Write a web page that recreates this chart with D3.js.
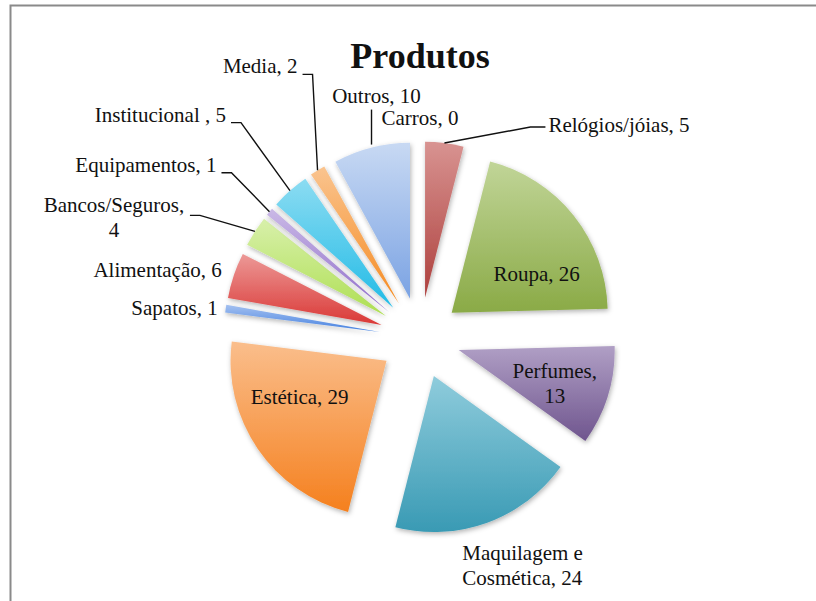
<!DOCTYPE html>
<html>
<head>
<meta charset="utf-8">
<script src="https://cdn.jsdelivr.net/npm/d3@7"></script>
<style>
  body { margin: 0; background: #fff; }
  svg { display: block; }
  text { font-family: "Liberation Serif", "Times New Roman", serif; fill: #111; }
</style>
</head>
<body>
<div id="chart"></div>
<script>
// chart data
var categories = ["Carros", "Relógios/jóias", "Roupa", "Perfumes", "Maquilagem e Cosmética", "Estética",
    "Sapatos", "Alimentação", "Bancos/Seguros", "Equipamentos", "Institucional ", "Media", "Outros"];
var values = [0, 5, 26, 13, 24, 29, 1, 6, 4, 1, 5, 2, 10];
var baseColors = ["#4F81BD", "#C0504D", "#9BBB59", "#8064A2", "#4BACC6", "#F79646",
    "#6A9AE6", "#E05A58", "#C0E678", "#A98ED6", "#45C6EA", "#F7A04A", "#A6C1EC"];
var title = "Produtos";

var w = 816, h = 601;
var cx = 420, cy = 338;
var radius = 156;
var explode = 40.5;

// label placement: offset from the slice's outer point, text lines, anchor, leader
var labelLayout = [
    { dx: 0, dy: -17, anchor: "middle", lines: ["Carros, 0"], leader: null },
    { dx: 104, dy: -11, anchor: "start", lines: ["Relógios/jóias, 5"], leader: "left" },
    { dx: -37, dy: 66, anchor: "middle", lines: ["Roupa, 26"], leader: null },
    { dx: -53, dy: -18, anchor: "middle", lines: ["Perfumes,", "13"], leader: null },
    { dx: -25, dy: 37, anchor: "start", lines: ["Maquilagem e", "Cosmética, 24"], leader: null },
    { dx: 42, dy: -45, anchor: "middle", lines: ["Estética, 29"], leader: null },
    { dx: -8, dy: 6, anchor: "end", lines: ["Sapatos, 1"], leader: null },
    { dx: -12, dy: 2, anchor: "end", lines: ["Alimentação, 6"], leader: null },
    { dx: -141, dy: -19, anchor: "middle", lines: ["Bancos/Seguros,", "4"], leader: "right", leaderX: -70 },
    { dx: -53, dy: -40, anchor: "end", lines: ["Equipamentos, 1"], leader: "right" },
    { dx: -64, dy: -69, anchor: "end", lines: ["Institucional , 5"], leader: "right" },
    { dx: -20, dy: -97, anchor: "end", lines: ["Media, 2"], leader: "right" },
    { dx: 5, dy: -45, anchor: "middle", lines: ["Outros, 10"], leader: "down" }
];

var svg = d3.select("#chart")
    .append("svg")
    .attr("width", w)
    .attr("height", h);

var defs = svg.append("defs");

var shadow = defs.append("filter")
    .attr("id", "shadow")
    .attr("x", "-20%").attr("y", "-20%")
    .attr("width", "140%").attr("height", "140%");
shadow.append("feDropShadow")
    .attr("dx", 1).attr("dy", 2)
    .attr("stdDeviation", 2.5)
    .attr("flood-color", "#000")
    .attr("flood-opacity", 0.3);

// outer frame
svg.append("rect")
    .attr("x", 10.5).attr("y", 5.5)
    .attr("width", w + 20).attr("height", h + 20)
    .attr("fill", "none")
    .attr("stroke", "#8a8a8a")
    .attr("stroke-width", 2);

// one vertical gradient per slice: light top, deeper bottom
baseColors.forEach(function (c, i) {
    var g = defs.append("linearGradient")
        .attr("id", "grad" + i)
        .attr("x1", 0).attr("y1", 0)
        .attr("x2", 0).attr("y2", 1);
    var bottom = d3.hsl(c);
    bottom.l = bottom.l * 0.87;
    g.append("stop").attr("offset", "0%")
        .attr("stop-color", d3.interpolateRgb(c, "#fff")(0.38));
    g.append("stop").attr("offset", "100%")
        .attr("stop-color", bottom.formatHex());
});

var pie = d3.pie().sort(null).value((d) => d);
var arcs = pie(values);

var arc = d3.arc().innerRadius(0).outerRadius(radius);

function midAngle(d) {
    return (d.startAngle + d.endAngle) / 2;
}
function apex(d) {
    var a = midAngle(d);
    return [cx + explode * Math.sin(a), cy - explode * Math.cos(a)];
}
function outerPoint(d) {
    var a = midAngle(d), p = apex(d);
    return [p[0] + radius * Math.sin(a), p[1] - radius * Math.cos(a)];
}

svg.append("g")
    .selectAll("path")
    .data(arcs.filter((d) => d.value > 0))
    .enter()
    .append("path")
    .attr("transform", (d) => `translate(${apex(d)[0]}, ${apex(d)[1]})`)
    .attr("d", arc)
    .attr("fill", (d) => `url(#grad${d.index})`)
    .attr("filter", "url(#shadow)");

// leader lines
var leaders = svg.append("g")
    .attr("fill", "none")
    .attr("stroke", "#111")
    .attr("stroke-width", 1.4);

var pts = (arr) => arr.map((p) => p.join(",")).join(" ");

arcs.forEach(function (d, i) {
    var lay = labelLayout[i];
    var o = outerPoint(d);
    var lx = o[0] + lay.dx, ly = o[1] + lay.dy;
    if (lay.leader == "right") {
        var sx = (lay.leaderX != null ? o[0] + lay.leaderX : lx) + 5;
        var yy = ly + (lay.leaderX != null ? 3 : 1);
        leaders.append("polyline")
            .attr("points", pts([[sx, yy], [sx + 10, yy], o]));
    } else if (lay.leader == "left") {
        var yl = ly - 5;
        leaders.append("polyline")
            .attr("points", pts([[lx - 3, yl], [lx - 18, yl], o]));
    } else if (lay.leader == "down") {
        leaders.append("line")
            .attr("x1", o[0]).attr("y1", ly + 7)
            .attr("x2", o[0]).attr("y2", o[1] - 3);
    }
});

// labels
var labels = svg.append("g").attr("font-size", "21px");
arcs.forEach(function (d, i) {
    var lay = labelLayout[i];
    var o = outerPoint(d);
    var t = labels.append("text")
        .attr("x", o[0] + lay.dx)
        .attr("y", o[1] + lay.dy)
        .attr("text-anchor", lay.anchor);
    lay.lines.forEach(function (line, k) {
        t.append("tspan")
            .attr("x", o[0] + lay.dx)
            .attr("dy", k == 0 ? 0 : 25)
            .text(line);
    });
});

svg.append("text")
    .attr("x", 420)
    .attr("y", 68)
    .attr("text-anchor", "middle")
    .attr("font-size", "36px")
    .attr("font-weight", "bold")
    .text(title);
</script>
</body>
</html>
